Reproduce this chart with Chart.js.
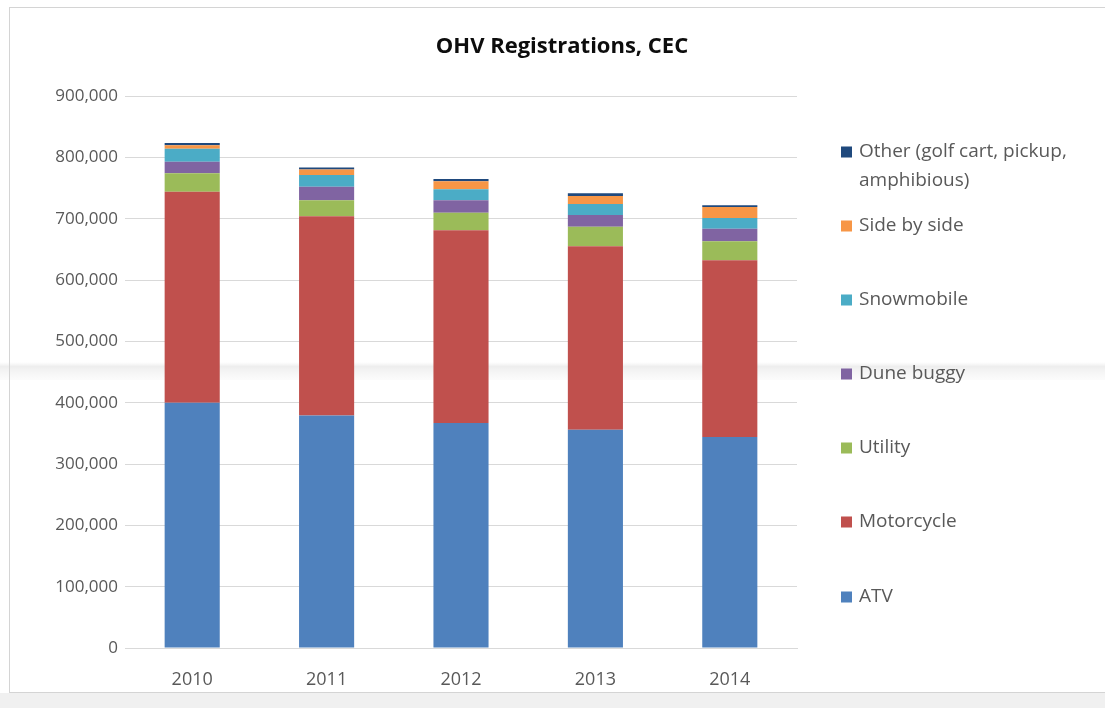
<!DOCTYPE html>
<html>
<head>
<meta charset="utf-8">
<script src="https://cdn.jsdelivr.net/npm/chart.js@4/dist/chart.umd.min.js"></script>
<style>
  html, body { margin: 0; padding: 0; background: #ffffff; }
  #wrap { position: relative; width: 1105px; height: 708px; }
  canvas { display: block; }
</style>
</head>
<body>
<div id="wrap"><canvas id="c" width="1105" height="708"></canvas></div>
<script>
const categories = ['2010', '2011', '2012', '2013', '2014'];
const atv        = [400000, 379000, 367000, 356000, 344000];
const motorcycle = [344000, 325000, 314000, 299000, 288000];
const utility    = [30000, 26000, 28500, 32000, 31000];
const duneBuggy  = [19000, 22000, 20500, 19000, 20500];
const snowmobile = [21000, 19000, 18000, 18000, 17500];
const sideBySide = [5500, 9000, 13000, 13000, 18000];
const other      = [4000, 3500, 3500, 4500, 3000];
const yTicks     = [0, 100000, 200000, 300000, 400000, 500000, 600000, 700000, 800000, 900000];
const titleText  = 'OHV Registrations, CEC';

const FONT = "'Open Sans', 'Lato', sans-serif";
const GRAY = '#595959';

const datasets = [
  { label: 'ATV', data: atv, backgroundColor: '#4F81BD' },
  { label: 'Motorcycle', data: motorcycle, backgroundColor: '#C0504D' },
  { label: 'Utility', data: utility, backgroundColor: '#9BBB59' },
  { label: 'Dune buggy', data: duneBuggy, backgroundColor: '#8064A2' },
  { label: 'Snowmobile', data: snowmobile, backgroundColor: '#4BACC6' },
  { label: 'Side by side', data: sideBySide, backgroundColor: '#F79646' },
  { label: ['Other (golf cart, pickup,', 'amphibious)'], data: other, backgroundColor: '#1F497D' }
];

const framePlugin = {
  id: 'frame',
  beforeDraw(chart) {
    const ctx = chart.ctx;
    ctx.save();
    ctx.fillStyle = '#ffffff';
    ctx.fillRect(0, 0, chart.width, chart.height);
    // faint scan band
    const g = ctx.createLinearGradient(0, 362, 0, 380);
    g.addColorStop(0, 'rgba(240,240,240,0)');
    g.addColorStop(0.25, 'rgba(238,238,238,1)');
    g.addColorStop(1, 'rgba(246,246,246,0.4)');
    ctx.fillStyle = g;
    ctx.fillRect(0, 362, chart.width, 18);
    // bottom gray strip
    ctx.fillStyle = '#f0f0f0';
    ctx.fillRect(0, 693, chart.width, chart.height - 693);
    // border
    ctx.strokeStyle = '#d4d4d4';
    ctx.lineWidth = 1;
    ctx.strokeRect(9.5, 7.5, chart.width + 10, 685);
    ctx.restore();
  },
  afterDraw(chart) {
    const ctx = chart.ctx;
    ctx.save();
    // title
    ctx.fillStyle = '#0d0d0d';
    ctx.font = "bold 22px " + FONT;
    ctx.textAlign = 'center';
    ctx.textBaseline = 'middle';
    ctx.fillText(titleText, 562, 47);
    // legend (reversed order)
    const ys = [597, 522, 448, 374, 300, 226, 152];
    ctx.font = "19px " + FONT;
    ctx.textAlign = 'left';
    chart.data.datasets.forEach((ds, i) => {
      const y = ys[i];
      ctx.fillStyle = ds.backgroundColor;
      ctx.fillRect(841, y - 5.5, 11, 11);
      ctx.fillStyle = GRAY;
      const lines = Array.isArray(ds.label) ? ds.label : [ds.label];
      lines.forEach((t, k) => ctx.fillText(t, 859, y + k * 29));
    });
    ctx.restore();
  }
};

new Chart(document.getElementById('c'), {
  type: 'bar',
  data: { labels: categories, datasets },
  plugins: [framePlugin],
  options: {
    responsive: false,
    animation: false,
    layout: { padding: { top: 96, right: 308, bottom: 0, left: 0 } },
    plugins: {
      legend: { display: false },
      title: { display: false },
      tooltip: { enabled: false }
    },
    datasets: { bar: { categoryPercentage: 1, barPercentage: 0.41 } },
    scales: {
      x: {
        stacked: true,
        grid: { display: false, drawTicks: false },
        border: { display: true, color: '#d9d9d9', width: 1 },
        ticks: { color: GRAY, font: { family: FONT, size: 18 }, padding: 21 },
        afterFit(s) { s.height = 60; }
      },
      y: {
        stacked: true,
        min: 0,
        max: 900000,
        afterBuildTicks(s) { s.ticks = yTicks.map(v => ({ value: v })); },
        grid: { color: '#d9d9d9', drawTicks: false },
        border: { display: false },
        ticks: {
          color: GRAY,
          font: { family: FONT, size: 17 },
          padding: 7,
          callback: v => v.toLocaleString('en-US')
        },
        afterFit(s) { s.width = 125; }
      }
    }
  }
});
</script>
</body>
</html>
